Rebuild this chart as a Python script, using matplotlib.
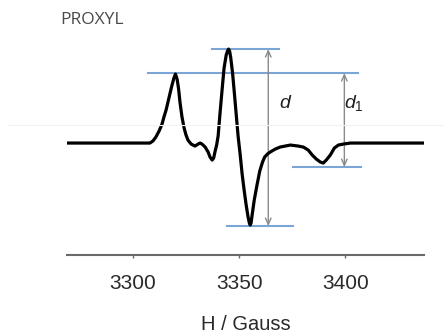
import matplotlib
matplotlib.use("Agg")
import matplotlib.pyplot as plt
from matplotlib.lines import Line2D

plt.rcParams["mathtext.fontset"] = "custom"
plt.rcParams["mathtext.it"] = "Liberation Sans:italic"
plt.rcParams["mathtext.rm"] = "Liberation Sans"

# EPR first-derivative spectrum of PROXYL (field in gauss, signal in arbitrary units)
field = [3269.0, 3294.0, 3308.0, 3309.4, 3310.8, 3312.3, 3313.7, 3314.6, 3315.6,
         3316.5, 3317.5, 3318.4, 3319.3, 3320.0, 3320.8, 3321.5, 3322.2, 3323.1,
         3324.1, 3325.0, 3325.9, 3327.4, 3329.2, 3330.7, 3331.6, 3332.5, 3334.0,
         3335.4, 3336.3, 3337.3, 3338.0, 3338.7, 3339.4, 3340.1, 3341.0, 3342.0,
         3342.9, 3343.9, 3344.5, 3345.0, 3345.5, 3346.0, 3346.9, 3347.7, 3348.6,
         3349.5, 3350.5, 3351.4, 3352.4, 3353.3, 3354.2, 3354.8, 3355.2, 3355.6,
         3356.1, 3357.1, 3358.4, 3359.7, 3361.0, 3362.0, 3363.3, 3364.6, 3367.0,
         3369.3, 3374.1, 3377.8, 3380.2, 3382.5, 3384.4, 3386.3, 3388.2, 3389.6,
         3391.0, 3392.9, 3394.8, 3396.7, 3399.1, 3402.4, 3437.0]
signal = [0, 0, 0, 2, 6, 12, 19, 26, 33,
          41, 50, 58, 65, 69, 64, 54, 40, 26,
          15, 8, 3, -1, -3, -1, 0, -1, -4,
          -9, -14, -17, -15, -8, -2, 7, 30, 54,
          75, 88, 92, 94, 92, 86, 70, 51, 29,
          7, -12, -31, -48, -62, -74, -80, -82, -80,
          -72, -57, -42, -28, -19, -14, -11, -9, -6,
          -4, -2, -3, -4, -7, -12, -16, -19, -20,
          -17, -12, -5, -2, -1, 0, 0]

# Reference levels (field span and signal level) and distance arrows
level_lines = [
    ((3337.3, 3368.9), 94),
    ((3307.1, 3405.7), 70),
    ((3344.3, 3375.5), -83),
    ((3375.5, 3407.5), -24),
]
arrow_d = (3363.7, 94, -83)
arrow_d1 = (3399.5, 70, -24)
xticks = [3300, 3350, 3400]

fig = plt.figure(figsize=(4.44, 3.36), dpi=100)
ax = fig.add_axes([0.151, 0.241, 0.804, 0.729])
ax.set_xlim(3269, 3437)
ax.set_ylim(-112, 133)

# faint rule across the figure
fig.add_artist(Line2D([0.018, 1.0], [1 - 125 / 336, 1 - 125 / 336],
                      transform=fig.transFigure, color="#f2f2f2", lw=0.8))

ax.plot(field, signal, color="black", lw=2.3, solid_capstyle="round",
        solid_joinstyle="round", zorder=3)

for (x0, x1), yv in level_lines:
    ax.plot([x0, x1], [yv, yv], color="#7ba5d6", lw=1.5, zorder=2)

for xa, ytop, ybot in (arrow_d, arrow_d1):
    ax.annotate("", xy=(xa, ytop), xytext=(xa, ybot),
                arrowprops=dict(arrowstyle="<->,head_length=0.45,head_width=0.2",
                                color="#8a8a8a", lw=1.0, shrinkA=0, shrinkB=0),
                zorder=2)

ax.text(3371.7, 40, "d", fontsize=14, family="Liberation Sans", style="italic",
        ha="center", va="center", color="#222222")
ax.text(3404.0, 40, r"$d_{\mathit{1}}$", fontsize=14, ha="center", va="center",
        color="#222222")

fig.text(92 / 444, 1 - 20 / 336, "PROXYL", fontsize=12.5, family="Open Sans",
         ha="center", va="center", color="#4a4a4a")

for s in ("top", "left", "right"):
    ax.spines[s].set_visible(False)
ax.spines["bottom"].set_color("#6a6a6a")
ax.spines["bottom"].set_linewidth(1.5)
ax.set_yticks([])
ax.set_xticks(xticks)
ax.set_xticklabels([str(t) for t in xticks], family="Liberation Sans", fontsize=15,
                   color="#2a2a2a")
ax.tick_params(axis="x", direction="out", length=2.5, width=1, color="#6a6a6a", pad=11)
ax.set_xlabel("H / Gauss", family="Liberation Sans", fontsize=14.5, color="#2a2a2a",
              labelpad=16)

fig.savefig("out.png", dpi=100)
